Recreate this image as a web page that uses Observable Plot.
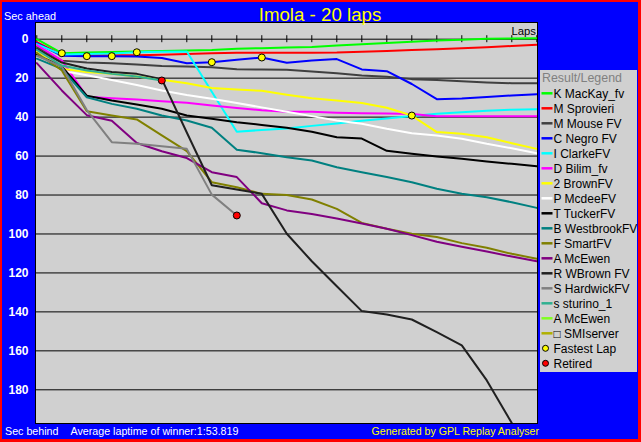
<!DOCTYPE html>
<html><head><meta charset="utf-8">
<script src="https://cdn.jsdelivr.net/npm/d3@7"></script>
<script src="https://cdn.jsdelivr.net/npm/@observablehq/plot@0.6"></script>
<style>
html,body{margin:0;padding:0;background:#0000ff;}
#chart{position:relative;width:641px;height:442px;background:#0000ff;overflow:hidden;font-family:"Liberation Sans",Arial,sans-serif;}
#chart svg{position:absolute;left:0;top:0;}
#border{position:absolute;left:0;top:0;width:641px;height:442px;box-sizing:border-box;border:2px solid #ff0000;border-right-width:3px;border-bottom-width:3px;pointer-events:none;z-index:10;}
</style></head><body>
<div id="chart"><div id="border"></div></div>
<script>
// ---------- data ----------
const laps = [0,1,2,3,4,5,6,7,8,9,10,11,12,13,14,15,16,17,18,19,20];
const lapTicks = [0,1,2,3,4,5,6,7,8,9,10,11,12,13,14,15,16,17,18,19,20];
const yTicks = [0,20,40,60,80,100,120,140,160,180];

const driverNames = ["K MacKay_fv","M Sprovieri","M Mouse FV","C Negro FV","I ClarkeFV","D Bilim_fv","2 BrownFV","P McdeeFV","T TuckerFV","B WestbrookFV","F SmartFV","A McEwen","R WBrown FV","S HardwickFV","s sturino_1","A McEwen","\u25A1 SMIserver"];
const driverColors = ["#00ff00","#ff0000","#404040","#0000ff","#00ffff","#ff00ff","#ffff00","#ffffff","#000000","#008080","#808000","#800080","#202020","#808080","#30b090","#80ff20","#b0b000"];

// seconds behind the winner's average pace, per lap (lap 0 .. 20)
const gapMacKay    = [0,7.2,6.8,6.6,6.3,6.0,5.8,5.5,4.9,4.6,4.3,4.0,3.2,2.6,2.0,1.3,0.7,0.3,-0.2,-0.4,-0.5];
const gapSprovieri = [1.5,8.0,8.2,8.2,8.2,8.0,7.6,7.2,6.9,7.0,7.0,6.9,6.8,6.4,6.0,5.6,5.2,4.7,4.1,3.5,2.9];
const gapMouse     = [4,11,12,12.3,13,13.7,14,14.4,15.4,15.6,15.7,16.6,17.5,18.6,19.3,20.5,21,21.6,22.2,22.6,22.6];
const gapNegro     = [2,8.5,8.7,8.7,8.9,9.6,12.3,11.8,10.6,9.4,12.1,10.9,10.2,15.5,16.4,23,30.8,30.4,29.7,28.9,28.2];
const gapClarke    = [2.5,7.9,7.6,7.3,6.7,6.5,6.3,27,47.5,46.6,45.8,44.5,43.3,41.9,40.7,39.4,38.3,37.5,36.7,36.2,36];
const gapBilim     = [3,10.9,29.5,30.3,31,31.8,32.6,34,35.3,36.5,37.3,37.3,37.7,38,38.2,38.4,39.6,39.6,39.6,39.6,39.6];
const gapBrown     = [6.5,15.2,16.9,17.8,19.1,20.8,22.6,25,25.8,26.5,28.5,30.3,31.5,32.8,35.2,39.2,47.7,48.6,50.3,53.4,56.3];
const gapMcdee     = [7,16.2,18.5,21,23.5,26.3,28.6,30.6,32.8,35,37.2,39.5,41.7,43.4,46,48.3,49.4,51.1,53.7,56,58.5];
const gapTucker    = [8,14,29,31.5,33.5,35.7,39.2,40.9,42.6,44,45.5,47.5,50.3,51,57.3,58.8,60.2,61.4,62.8,64,65.2];
const gapWestbrook = [10,15.2,29.8,33.2,35.7,39.2,41.7,45.5,56.8,58.5,60.6,62.3,65.7,68.3,70.8,73.4,76.8,79.4,81.1,83.7,86.6];
const gapSmart     = [7,16.1,37,39.2,41.2,49.4,57.5,73.4,76,79.4,80,82.3,87.1,94.3,97.3,99.9,101.6,104.7,107.1,110.2,112.7];
const gapMcEwen    = [12.3,26.3,39,41.9,53.3,57.5,61,68.3,70.8,84.2,87.9,89.8,92,94.6,97.3,100.6,104,106.6,109,111.6,114];
const gapWBrown    = [5,12,15,16.8,17.8,20.5,47.9,75,77.2,79.4,99.9,114,126.8,139.6,141.3,143.9,150.4,157.2,175.2,197.1,222];
const gapHardwick  = [8.5,14,36.4,52.9,53.7,55,56.3,79.8,90.5];
const gapSturino   = [5.5,13.5,16.1,17.8,19.1,21.2];
const gapMcEwen2   = [];
const gapSMIserver = [];

const fastestLap = [1,2,3,4,7,9,15];
const fastestGap = [7.2,8.7,8.7,6.7,11.8,9.4,39.2];
const retiredLap = [5,8];
const retiredGap = [21.2,90.5];

const gapLists = [gapMacKay,gapSprovieri,gapMouse,gapNegro,gapClarke,gapBilim,gapBrown,gapMcdee,gapTucker,gapWestbrook,gapSmart,gapMcEwen,gapWBrown,gapHardwick,gapSturino,gapMcEwen2,gapSMIserver];

// ---------- chart ----------
const W = 641, H = 442;
const FONT = '"Liberation Sans", Arial, sans-serif';

const lineMarks = gapLists.map((gaps, i) =>
  Plot.line(gaps.map((g, j) => ({lap: laps[j], gap: g})), {
    x: "lap", y: "gap", stroke: driverColors[i], strokeWidth: 2, clip: true
  })
);

const plot = Plot.plot({
  width: W, height: H,
  marginLeft: 35, marginRight: 104, marginTop: 22, marginBottom: 19,
  x: {domain: [0, 20], range: [36.3, 536.3], axis: null},
  y: {domain: [0, 180], range: [38.7, 389.3]},
  style: {background: "transparent", fontFamily: FONT, overflow: "visible"},
  marks: [
    Plot.frame({fill: "#d0d0d0"}),
    Plot.ruleY(yTicks, {stroke: "black", strokeWidth: 1}),
    Plot.ruleX(lapTicks, {x: d => d, y1: -1.8, y2: 1.8, stroke: "black", strokeWidth: 1}),
    Plot.axisY(yTicks, {anchor: "left", tickSize: 0, tickPadding: 7, color: "white", fill: "white", fontWeight: "bold", fontSize: 12, label: null}),
    ...lineMarks,
    Plot.dot(fastestLap.map((l, i) => ({lap: l, gap: fastestGap[i]})), {x: "lap", y: "gap", r: 3.5, fill: "#ffff00", stroke: "black", strokeWidth: 1}),
    Plot.dot(retiredLap.map((l, i) => ({lap: l, gap: retiredGap[i]})), {x: "lap", y: "gap", r: 3.5, fill: "#ff0000", stroke: "black", strokeWidth: 1}),
    Plot.frame({stroke: "black", strokeWidth: 1})
  ]
});
const chart = document.getElementById("chart");
chart.insertBefore(plot, chart.firstChild);

// ---------- texts and legend ----------
const ov = d3.select("#chart").append("svg")
  .attr("width", W).attr("height", H)
  .style("font-family", FONT).style("pointer-events", "none");

ov.append("text").attr("x", 320).attr("y", 21).attr("text-anchor", "middle")
  .attr("fill", "#ffff00").attr("font-size", 18.7).text("Imola - 20 laps");
ov.append("text").attr("x", 4).attr("y", 20).attr("fill", "white")
  .attr("font-size", 10.9).text("Sec ahead");
ov.append("text").attr("x", 536).attr("y", 35).attr("text-anchor", "end")
  .attr("fill", "black").attr("font-size", 11.3).text("Laps");
ov.append("text").attr("x", 5).attr("y", 435).attr("fill", "white")
  .attr("font-size", 10.7).text("Sec behind");
ov.append("text").attr("x", 70.5).attr("y", 435).attr("fill", "white")
  .attr("font-size", 10.7).text("Average laptime of winner:1:53.819");
ov.append("text").attr("x", 539).attr("y", 435).attr("text-anchor", "end")
  .attr("fill", "#ffff00").attr("font-size", 10.6).text("Generated by GPL Replay Analyser");

const lg = ov.append("g");
lg.append("rect").attr("x", 540).attr("y", 70).attr("width", 97).attr("height", 302).attr("fill", "#d0d0d0");
lg.append("text").attr("x", 542).attr("y", 81.5).attr("fill", "#808080").attr("font-size", 12.4).text("Result/Legend");

const rowY = i => 93.3 + 15 * i;
driverNames.forEach((name, i) => {
  const cy = rowY(i);
  lg.append("line").attr("x1", 541.5).attr("x2", 552.5).attr("y1", cy).attr("y2", cy)
    .attr("stroke", driverColors[i]).attr("stroke-width", 2.5);
  lg.append("text").attr("x", 553.5).attr("y", cy + 4.4).attr("fill", "black")
    .attr("font-size", 12).text(name);
});
const extra = [["Fastest Lap", "#ffff00"], ["Retired", "#ff0000"]];
extra.forEach(([label, col], k) => {
  const cy = rowY(driverNames.length + k);
  lg.append("circle").attr("cx", 545.5).attr("cy", cy).attr("r", 3)
    .attr("fill", col).attr("stroke", "black").attr("stroke-width", 1);
  lg.append("text").attr("x", 553.5).attr("y", cy + 4.4).attr("fill", "black")
    .attr("font-size", 12).text(label);
});
</script>
</body></html>
